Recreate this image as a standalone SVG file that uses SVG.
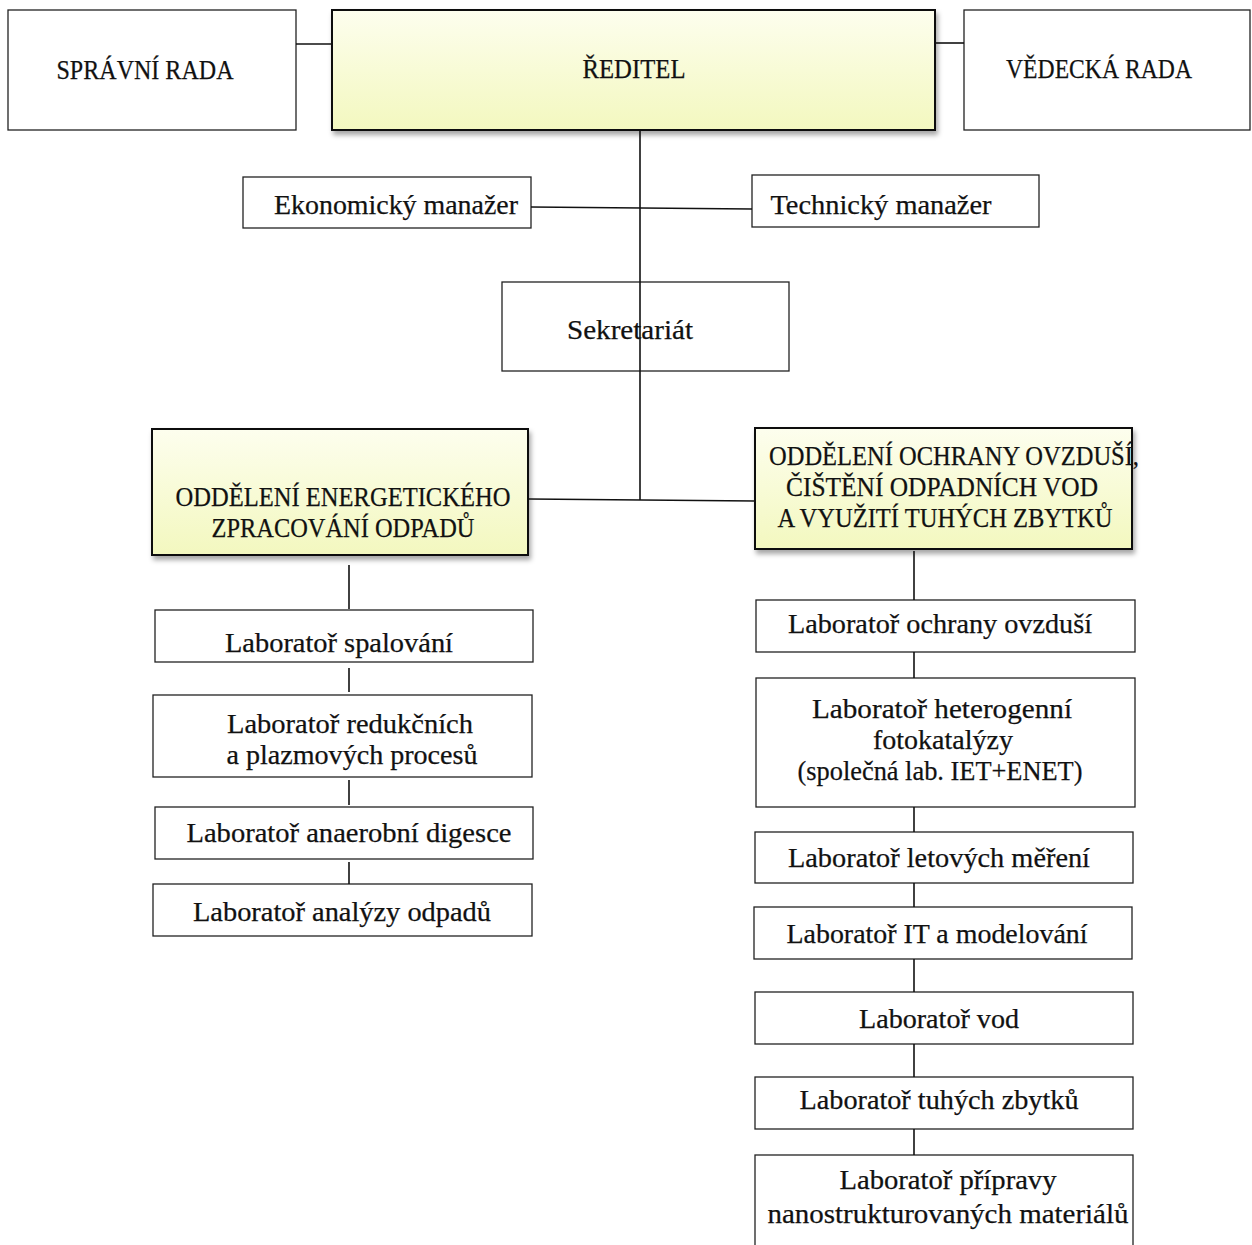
<svg xmlns="http://www.w3.org/2000/svg" width="1252" height="1245" viewBox="0 0 1252 1245">
<defs>
<linearGradient id="yel" x1="0" y1="0" x2="0" y2="1">
<stop offset="0" stop-color="#fdfeee"/>
<stop offset="1" stop-color="#f3f8bf"/>
</linearGradient>
<filter id="sh" x="-5%" y="-10%" width="115%" height="130%">
<feDropShadow dx="2" dy="4" stdDeviation="2.5" flood-color="#000" flood-opacity="0.35"/>
</filter>
</defs>
<style>
.box{fill:#fff;stroke:#222;stroke-width:1.3}
.ybox{fill:url(#yel);stroke:#111;stroke-width:2;filter:url(#sh)}
.t{font-family:"Liberation Serif","Times New Roman",serif;font-size:28px;fill:#111;stroke:#111;stroke-width:0.25;text-anchor:middle}
.c{stroke:#111;stroke-width:1.6;fill:none}
</style>
<rect width="1252" height="1245" fill="#fff"/>
<g id="spravni-rada">
<rect class="box" x="8" y="10" width="288" height="120"/>
<text class="t" x="145" y="79" textLength="177" lengthAdjust="spacingAndGlyphs">SPRÁVNÍ RADA</text>
</g>
<g id="reditel">
<rect class="ybox" x="332" y="10" width="603" height="120"/>
<text class="t" x="634" y="78" textLength="103" lengthAdjust="spacingAndGlyphs">ŘEDITEL</text>
</g>
<g id="vedecka-rada">
<rect class="box" x="964" y="10" width="286" height="120"/>
<text class="t" x="1099" y="78" textLength="186" lengthAdjust="spacingAndGlyphs">VĚDECKÁ RADA</text>
</g>
<g id="ekonomicky-manazer">
<rect class="box" x="243" y="177" width="288" height="51"/>
<text class="t" x="396" y="214" textLength="244" lengthAdjust="spacingAndGlyphs">Ekonomický manažer</text>
</g>
<g id="technicky-manazer">
<rect class="box" x="752" y="175" width="287" height="52"/>
<text class="t" x="881" y="214" textLength="221" lengthAdjust="spacingAndGlyphs">Technický manažer</text>
</g>
<g id="sekretariat">
<rect class="box" x="502" y="282" width="287" height="89"/>
<text class="t" x="630" y="339" textLength="126" lengthAdjust="spacingAndGlyphs">Sekretariát</text>
</g>
<g id="oddeleni-energetickeho">
<rect class="ybox" x="152" y="429" width="376" height="126"/>
<text class="t" x="343" y="506" textLength="335" lengthAdjust="spacingAndGlyphs">ODDĚLENÍ ENERGETICKÉHO</text>
<text class="t" x="343" y="537" textLength="263" lengthAdjust="spacingAndGlyphs">ZPRACOVÁNÍ ODPADŮ</text>
</g>
<g id="oddeleni-ochrany">
<rect class="ybox" x="755" y="428" width="377" height="121"/>
<text class="t" x="954" y="465" textLength="370" lengthAdjust="spacingAndGlyphs">ODDĚLENÍ OCHRANY OVZDUŠÍ,</text>
<text class="t" x="942" y="496" textLength="312" lengthAdjust="spacingAndGlyphs">ČIŠTĚNÍ ODPADNÍCH VOD</text>
<text class="t" x="945" y="527" textLength="335" lengthAdjust="spacingAndGlyphs">A VYUŽITÍ TUHÝCH ZBYTKŮ</text>
</g>
<g id="lab-spalovani">
<rect class="box" x="155" y="610" width="378" height="52"/>
<text class="t" x="339" y="652" textLength="228" lengthAdjust="spacingAndGlyphs">Laboratoř spalování</text>
</g>
<g id="lab-redukcnich">
<rect class="box" x="153" y="695" width="379" height="82"/>
<text class="t" x="350" y="733" textLength="246" lengthAdjust="spacingAndGlyphs">Laboratoř redukčních</text>
<text class="t" x="352" y="764" textLength="251" lengthAdjust="spacingAndGlyphs">a plazmových procesů</text>
</g>
<g id="lab-anaerobni">
<rect class="box" x="155" y="807" width="378" height="52"/>
<text class="t" x="349" y="842" textLength="325" lengthAdjust="spacingAndGlyphs">Laboratoř anaerobní digesce</text>
</g>
<g id="lab-analyzy">
<rect class="box" x="153" y="884" width="379" height="52"/>
<text class="t" x="342" y="921" textLength="298" lengthAdjust="spacingAndGlyphs">Laboratoř analýzy odpadů</text>
</g>
<g id="lab-ochrany">
<rect class="box" x="756" y="600" width="379" height="52"/>
<text class="t" x="940" y="633" textLength="304" lengthAdjust="spacingAndGlyphs">Laboratoř ochrany ovzduší</text>
</g>
<g id="lab-fotokatalyzy">
<rect class="box" x="756" y="678" width="379" height="129"/>
<text class="t" x="942" y="718" textLength="260" lengthAdjust="spacingAndGlyphs">Laboratoř heterogenní</text>
<text class="t" x="943" y="749" textLength="140" lengthAdjust="spacingAndGlyphs">fotokatalýzy</text>
<text class="t" x="940" y="780" textLength="285" lengthAdjust="spacingAndGlyphs">(společná lab. IET+ENET)</text>
</g>
<g id="lab-letovych">
<rect class="box" x="755" y="832" width="378" height="51"/>
<text class="t" x="939" y="867" textLength="302" lengthAdjust="spacingAndGlyphs">Laboratoř letových měření</text>
</g>
<g id="lab-it">
<rect class="box" x="754" y="907" width="378" height="52"/>
<text class="t" x="937" y="943" textLength="301" lengthAdjust="spacingAndGlyphs">Laboratoř IT a modelování</text>
</g>
<g id="lab-vod">
<rect class="box" x="755" y="992" width="378" height="52"/>
<text class="t" x="939" y="1028" textLength="160" lengthAdjust="spacingAndGlyphs">Laboratoř vod</text>
</g>
<g id="lab-tuhych">
<rect class="box" x="755" y="1077" width="378" height="52"/>
<text class="t" x="939" y="1109" textLength="279" lengthAdjust="spacingAndGlyphs">Laboratoř tuhých zbytků</text>
</g>
<g id="lab-nano">
<rect class="box" x="755" y="1155" width="378" height="110"/>
<text class="t" x="948" y="1189" textLength="217" lengthAdjust="spacingAndGlyphs">Laboratoř přípravy</text>
<text class="t" x="948" y="1223" textLength="361" lengthAdjust="spacingAndGlyphs">nanostrukturovaných materiálů</text>
</g>
<g id="connectors">
<line class="c" x1="296" y1="44" x2="332" y2="44"/>
<line class="c" x1="935" y1="43" x2="964" y2="43"/>
<line class="c" x1="640" y1="131" x2="640" y2="500"/>
<line class="c" x1="531" y1="207" x2="752" y2="209"/>
<line class="c" x1="529" y1="499" x2="755" y2="501"/>
<line class="c" x1="349" y1="565" x2="349" y2="609"/>
<line class="c" x1="349" y1="668" x2="349" y2="692"/>
<line class="c" x1="349" y1="780" x2="349" y2="805"/>
<line class="c" x1="349" y1="862" x2="349" y2="884"/>
<line class="c" x1="914" y1="551" x2="914" y2="600"/>
<line class="c" x1="914" y1="652" x2="914" y2="678"/>
<line class="c" x1="914" y1="807" x2="914" y2="832"/>
<line class="c" x1="914" y1="883" x2="914" y2="907"/>
<line class="c" x1="914" y1="959" x2="914" y2="992"/>
<line class="c" x1="914" y1="1044" x2="914" y2="1077"/>
<line class="c" x1="914" y1="1129" x2="914" y2="1155"/>
</g>
</svg>
